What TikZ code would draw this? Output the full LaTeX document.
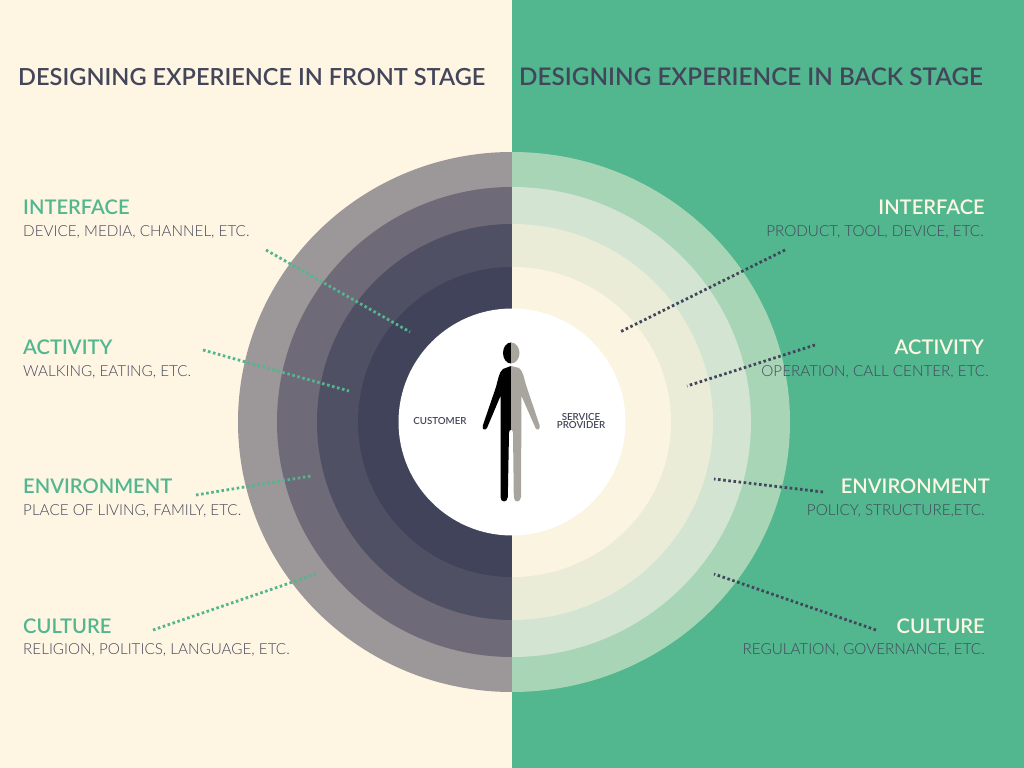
\documentclass[tikz,border=0pt]{standalone}
\usepackage{fontspec}
\setmainfont{Lato}
\newfontfamily\lightfont{Lato Light}
\newfontfamily\midfont{Lato Semibold}
\usetikzlibrary{positioning}
\definecolor{FrontBand}{RGB}{255,245,227}
\definecolor{BackBand}{RGB}{82,182,143}
\definecolor{InkDark}{RGB}{67,70,90}
\definecolor{LabelCream}{RGB}{253,246,227}
\definecolor{FrontA}{RGB}{156,151,153}
\definecolor{FrontB}{RGB}{110,106,120}
\definecolor{FrontC}{RGB}{80,80,100}
\definecolor{FrontD}{RGB}{65,67,90}
\definecolor{BackA}{RGB}{169,213,183}
\definecolor{BackB}{RGB}{211,229,210}
\definecolor{BackC}{RGB}{235,236,216}
\definecolor{BackD}{RGB}{250,244,224}
\definecolor{PersonGrey}{RGB}{168,165,158}
\tikzset{
  headline/.style={font=\midfont\fontsize{20.1}{22}\selectfont, text=InkDark, inner sep=0pt},
  frontname/.style={font=\midfont\fontsize{17.2}{20}\selectfont, text=BackBand, inner sep=0pt, anchor=base west},
  frontnote/.style={font=\lightfont\fontsize{13}{15}\selectfont, text=InkDark, inner sep=0pt, anchor=base west},
  backname/.style={font=\midfont\fontsize{17.2}{20}\selectfont, text=LabelCream, inner sep=0pt, anchor=base east},
  backnote/.style={font=\lightfont\fontsize{13}{15}\selectfont, text=InkDark, inner sep=0pt, anchor=base east},
  roleword/.style={font=\midfont\fontsize{8.3}{7}\selectfont, text=InkDark, inner sep=0pt, align=center},
  greendots/.style={BackBand, line width=2.4pt, dash pattern=on 2.2pt off 2.2pt},
  inkdots/.style={InkDark, line width=2.4pt, dash pattern=on 2.2pt off 2.2pt}
}

\begin{document}
\begin{tikzpicture}[x=0.03cm,y=-0.03cm]
  \useasboundingbox (0,0) rectangle (1024,768);
  \fill[FrontBand] (0,0) rectangle (512,768);
  \fill[BackBand] (512,0) rectangle (1024,768);

  % rings, front half
  \fill[FrontA] (512,152) arc[start angle=90, end angle=270, x radius=274, y radius=-270] -- cycle;
  \fill[FrontB] (512,187) arc[start angle=90, end angle=270, x radius=235, y radius=-235] -- cycle;
  \fill[FrontC] (512,224) arc[start angle=90, end angle=270, x radius=195, y radius=-198] -- cycle;
  \fill[FrontD] (512,267) arc[start angle=90, end angle=270, x radius=154, y radius=-155] -- cycle;
  % rings, back half
  \fill[BackA] (512,152) arc[start angle=90, end angle=-90, x radius=278, y radius=-270] -- cycle;
  \fill[BackB] (512,187) arc[start angle=90, end angle=-90, x radius=239, y radius=-235] -- cycle;
  \fill[BackC] (512,224) arc[start angle=90, end angle=-90, x radius=201, y radius=-198] -- cycle;
  \fill[BackD] (512,267) arc[start angle=90, end angle=-90, x radius=159, y radius=-155] -- cycle;
  \fill[white] (512,422) circle[radius=113.5];

  % person
  \fill[black] (511,342.5) arc[start angle=90, end angle=270, x radius=8, y radius=-10.5] -- cycle;
  \fill[PersonGrey] (511,342.5) arc[start angle=90, end angle=-90, x radius=8.5, y radius=-10.5] -- cycle;
  \fill[black] (511,366) -- (503,369) .. controls (499,372) and (498,380) .. (496,387)
    -- (483,425) .. controls (481.5,430) and (485,431) .. (487,428)
    -- (500.5,396) -- (500.5,497) .. controls (500.5,503) and (507.5,503) .. (507.8,497)
    -- (509,433) .. controls (509.3,430) and (510,430) .. (511,430) -- cycle;
  \fill[PersonGrey] (511,366) -- (519,368) .. controls (523,371) and (524,378) .. (526,385)
    -- (539.5,425) .. controls (540.5,430) and (537,431) .. (535.5,428)
    -- (521.5,396) -- (521,497) .. controls (520.5,503) and (514,503) .. (513.8,497)
    -- (513,433) .. controls (513,430) and (512,430) .. (511,430) -- cycle;

  \node[roleword] (customer) at (440,421) {CUSTOMER};
  \node[roleword] (provider) at (581,421) {SERVICE\\PROVIDER};

  % headings
  \node[headline, anchor=base west] (fronthead) at (18,86) {DESIGNING EXPERIENCE IN FRONT STAGE};
  \node[headline, font=\midfont\fontsize{20.7}{22}\selectfont, anchor=base west] (backhead) at (519,86) {DESIGNING EXPERIENCE IN BACK STAGE};

  % front labels
  \node[frontname] (fint) at (23,215) {INTERFACE};
  \node[frontnote] (fintn) at (23,236.5) {DEVICE, MEDIA, CHANNEL, ETC.};
  \node[frontname] (fact) at (23,355) {ACTIVITY};
  \node[frontnote] (factn) at (23,376.5) {WALKING, EATING, ETC.};
  \node[frontname] (fenv) at (23,494) {ENVIRONMENT};
  \node[frontnote] (fenvn) at (23,515.5) {PLACE OF LIVING, FAMILY, ETC.};
  \node[frontname] (fcul) at (23,633.5) {CULTURE};
  \node[frontnote] (fculn) at (23,654.5) {RELIGION, POLITICS, LANGUAGE, ETC.};

  % back labels
  \node[backname] (bint) at (985,215) {INTERFACE};
  \node[backnote] (bintn) at (984,236.5) {PRODUCT, TOOL, DEVICE, ETC.};
  \node[backname] (bact) at (984,355) {ACTIVITY};
  \node[backnote] (bactn) at (989,376.5) {OPERATION, CALL CENTER, ETC.};
  \node[backname] (benv) at (990,494) {ENVIRONMENT};
  \node[backnote] (benvn) at (985,515.5) {POLICY, STRUCTURE,ETC.};
  \node[backname] (bcul) at (985,633.5) {CULTURE};
  \node[backnote] (bculn) at (985,654) {REGULATION, GOVERNANCE, ETC.};

  % leader ends
  \coordinate (fint1) at (266,250);
  \coordinate (fint2) at (410,332);
  \coordinate (fact1) at (203,350);
  \coordinate (fact2) at (349,391);
  \coordinate (fenv1) at (196,495);
  \coordinate (fenv2) at (311,476);
  \coordinate (fcul1) at (153,630);
  \coordinate (fcul2) at (316,574);
  \coordinate (bint1) at (785,250);
  \coordinate (bint2) at (620,332);
  \coordinate (bact1) at (815,345);
  \coordinate (bact2) at (687,386);
  \coordinate (benv1) at (823,492);
  \coordinate (benv2) at (714,479);
  \coordinate (bcul1) at (876,630);
  \coordinate (bcul2) at (714,574);

  \draw[greendots] (fint1) -- (fint2);
  \draw[greendots] (fact1) -- (fact2);
  \draw[greendots] (fenv1) -- (fenv2);
  \draw[greendots] (fcul1) -- (fcul2);
  \draw[inkdots] (bint1) -- (bint2);
  \draw[inkdots] (bact1) -- (bact2);
  \draw[inkdots] (benv1) -- (benv2);
  \draw[inkdots] (bcul1) -- (bcul2);
\end{tikzpicture}
\end{document}
